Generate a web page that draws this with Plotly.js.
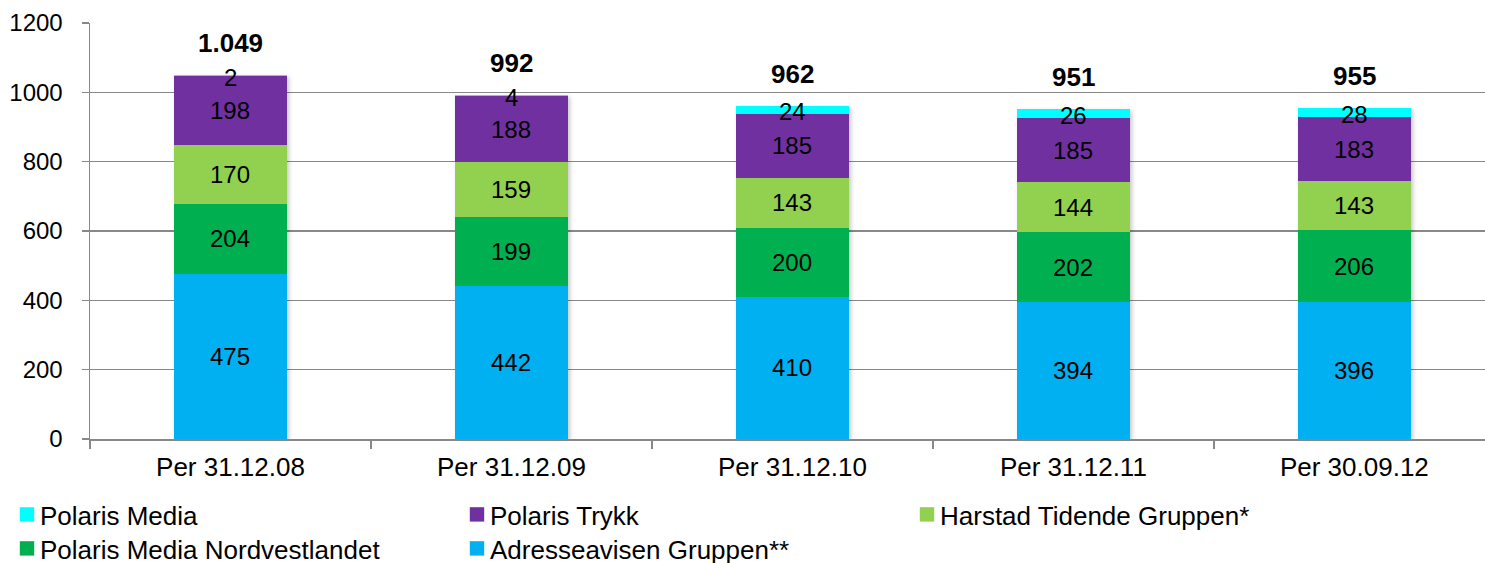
<!DOCTYPE html>
<html>
<head>
<meta charset="utf-8">
<script src="https://cdn.plot.ly/plotly-3.0.1.min.js"></script>
<style>
  html, body { margin: 0; padding: 0; background: #fff; overflow: hidden; }
  #chart { width: 1485px; height: 572px; }
  .barlayer { filter: drop-shadow(2px 2px 2px rgba(0,0,0,0.22)); }
  /* larger square swatches sitting just left of the legend text */
  .legendpoints path { transform: translate(27px, 0) scale(1.2); }
</style>
</head>
<body>
<div id="chart"></div>
<script>
// Employees per company, stacked per reporting date
const periods = ['Per 31.12.08', 'Per 31.12.09', 'Per 31.12.10', 'Per 31.12.11', 'Per 30.09.12'];

const adresseavisen = [475, 442, 410, 394, 396];
const nordvestlandet = [204, 199, 200, 202, 206];
const harstad = [170, 159, 143, 144, 143];
const polarisTrykk = [198, 188, 185, 185, 183];
const polarisMedia = [2, 4, 24, 26, 28];

const totals = [1049, 992, 962, 951, 955];
const totalLabels = ['1.049', '992', '962', '951', '955'];

const FONT = 'Liberation Sans, Arial, sans-serif';

// legend: first legend row, legend2: second legend row
const series = [
  { name: 'Adresseavisen Gruppen**', values: adresseavisen, color: '#00B0F0', legend: 'legend2' },
  { name: 'Polaris Media Nordvestlandet', values: nordvestlandet, color: '#00B050', legend: 'legend2' },
  { name: 'Harstad Tidende Gruppen*', values: harstad, color: '#92D050', legend: 'legend' },
  { name: 'Polaris Trykk', values: polarisTrykk, color: '#7030A0', legend: 'legend' },
  { name: 'Polaris Media', values: polarisMedia, color: '#00FFFF', legend: 'legend' }
];

const traces = series.map(s => ({
  type: 'bar',
  name: s.name,
  x: periods,
  y: s.values,
  legend: s.legend,
  marker: { color: s.color, line: { width: 0 } },
  hoverinfo: 'x+y+name'
}));

// Value labels centred in each segment, totals in bold above each stack
const annotations = [];
const base = periods.map(() => 0);
series.forEach(s => {
  s.values.forEach((v, i) => {
    annotations.push({
      x: periods[i], y: base[i] + v / 2, xref: 'x', yref: 'y',
      text: String(v), showarrow: false,
      yshift: s.values === polarisMedia ? -2 : 0,
      font: { family: FONT, size: 24, color: '#000' }
    });
    base[i] += v;
  });
});
totals.forEach((t, i) => {
  annotations.push({
    x: periods[i], y: t, xref: 'x', yref: 'y',
    text: '<b>' + totalLabels[i] + '</b>', showarrow: false,
    yshift: 32,
    font: { family: FONT, size: 26, color: '#000' }
  });
});

const H = 572;
const legendBase = {
  orientation: 'h',
  traceorder: 'reversed',
  xref: 'container', yref: 'container',
  x: 0.0,
  xanchor: 'left', yanchor: 'bottom',
  entrywidth: 405,
  entrywidthmode: 'pixels',
  itemwidth: 30,
  font: { family: FONT, size: 26, color: '#000' },
  bgcolor: 'rgba(0,0,0,0)'
};

const layout = {
  width: 1485,
  height: H,
  margin: { l: 90, r: 0, t: 23, b: H - 439 },
  paper_bgcolor: '#fff',
  plot_bgcolor: '#fff',
  barmode: 'stack',
  bargap: 0.6,
  font: { family: FONT, size: 24, color: '#000' },
  xaxis: {
    type: 'category',
    range: [-0.5, 4.465],
    showline: true,
    linecolor: '#888',
    linewidth: 1.5,
    ticks: 'outside',
    tickson: 'boundaries',
    ticklen: 8,
    tickcolor: '#888',
    tickwidth: 1.5,
    showgrid: false,
    ticklabelstandoff: 4,
    tickfont: { family: FONT, size: 26, color: '#000' }
  },
  yaxis: {
    range: [0, 1200],
    dtick: 200,
    showline: true,
    linecolor: '#888',
    linewidth: 1.5,
    ticks: 'outside',
    ticklen: 7,
    tickcolor: '#888',
    tickwidth: 1.5,
    showgrid: true,
    gridcolor: '#888',
    gridwidth: 1.5,
    zeroline: false,
    ticklabelstandoff: 14,
    tickfont: { family: FONT, size: 24, color: '#000' }
  },
  showlegend: true,
  legend: Object.assign({}, legendBase, { y: 34 / H }),
  legend2: Object.assign({}, legendBase, { y: 0 }),
  annotations: annotations
};

Plotly.newPlot('chart', traces, layout, { staticPlot: true, displayModeBar: false });
</script>
</body>
</html>
